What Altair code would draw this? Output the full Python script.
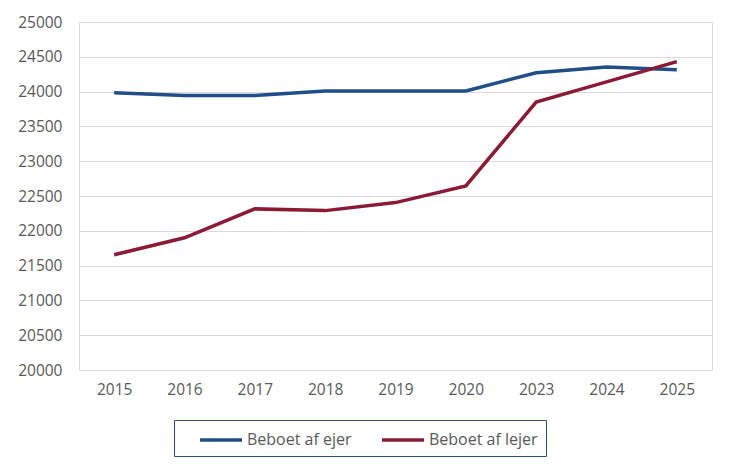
import altair as alt
import pandas as pd

years = ["2015", "2016", "2017", "2018", "2019", "2020", "2023", "2024", "2025"]
ejer = [23985, 23945, 23945, 24010, 24010, 24010, 24270, 24355, 24315]
lejer = [21655, 21900, 22315, 22290, 22405, 22645, 23850, 24140, 24430]
series_names = ["Beboet af ejer", "Beboet af lejer"]
colors = ["#1f4e89", "#8b1a35"]

rows = []
for y, v in zip(years, ejer):
    rows.append({"year": y, "value": v, "series": series_names[0]})
for y, v in zip(years, lejer):
    rows.append({"year": y, "value": v, "series": series_names[1]})
df = pd.DataFrame(rows)

font = "Open Sans"
fs = 15.5

chart = alt.Chart(df).mark_line(strokeWidth=3.5, clip=False).encode(
    x=alt.X("year:O", sort=years, title=None,
            scale=alt.Scale(type="point", padding=0.5),
            axis=alt.Axis(labelAngle=0, grid=False, domain=False, ticks=False,
                          labelPadding=12, labelFontSize=fs, labelColor="#595959",
                          labelFont=font)),
    y=alt.Y("value:Q", title=None,
            scale=alt.Scale(domain=[20000, 25000], nice=False, zero=False),
            axis=alt.Axis(values=list(range(20000, 25001, 500)), format="d",
                          grid=True, gridColor="#d9d9d9", gridWidth=1,
                          domain=False, ticks=False, labelPadding=17,
                          labelFontSize=fs, labelColor="#595959", labelFont=font)),
    color=alt.Color("series:N", sort=series_names,
                    scale=alt.Scale(domain=series_names, range=colors),
                    legend=alt.Legend(title=None, orient="none", legendX=95, legendY=398,
                                      direction="horizontal", symbolType="M-2.1,0H2.1",
                                      symbolStrokeWidth=3.5, symbolSize=400,
                                      symbolFillColor="transparent",
                                      labelFontSize=16, labelColor="#595959",
                                      labelFont=font, labelOffset=14,
                                      columnPadding=12, padding=8, symbolOffset=27,
                                      strokeColor="#2f4d7a", cornerRadius=0)),
).properties(
    width=633, height=348,
    autosize=alt.AutoSizeParams(type="none"),
    padding={"left": 71, "top": 14, "right": 15, "bottom": 90},
).configure_view(stroke=None).configure(background="white")

chart.save("out.html", embed_options={"renderer": "svg", "actions": False})
